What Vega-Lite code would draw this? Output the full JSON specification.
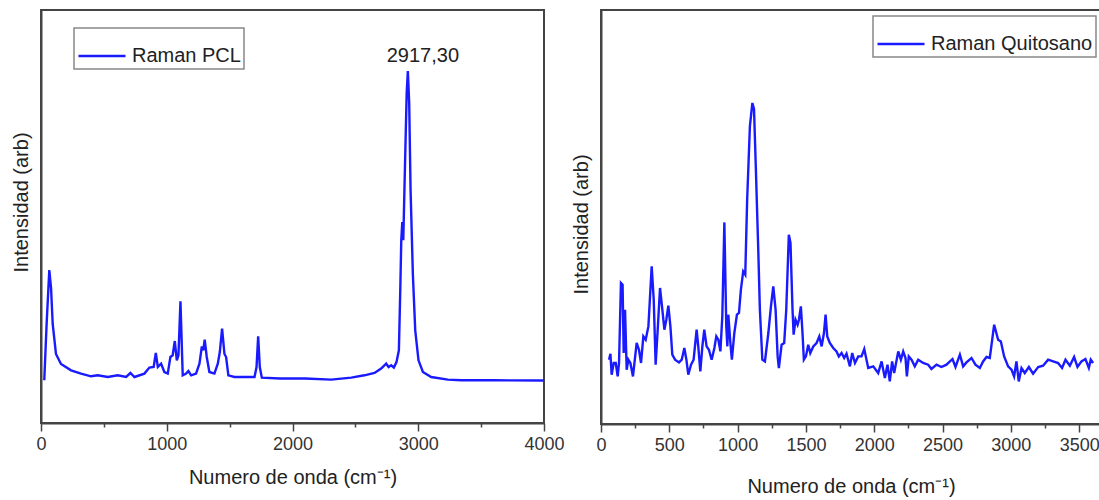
{
"$schema": "https://vega.github.io/schema/vega-lite/v6.json",
"padding": {"left": 10, "top": 9, "right": 0, "bottom": 0},
"background": "white",
"bounds": "flush",
"spacing": 57,
"config": {
  "view": {"stroke": "#444", "strokeWidth": 2},
  "font": "Liberation Sans",
  "axis": {"domainColor": "#444", "domainWidth": 2, "tickColor": "#444", "tickWidth": 1.5, "labelFontSize": 18, "labelColor": "#333", "labelFont": "Liberation Sans", "titleFont": "Liberation Sans", "titleFontSize": 20, "titleFontWeight": "normal", "titleColor": "#222", "grid": false, "labelFlush": false, "labelOverlap": false},
  "legend": {"orient": "none", "strokeColor": "#888", "strokeWidth": 1.5, "padding": 3, "symbolType": "stroke", "symbolSize": 2209, "symbolStrokeWidth": 2.5, "labelFontSize": 20, "labelFont": "Liberation Sans", "labelColor": "#222", "labelOffset": 5, "labelLimit": 400, "fillColor": "white", "cornerRadius": 0}
},
"datasets": {
  "pcl": [
    {"x":26,"y":42.7},{"x":45,"y":100},{"x":66,"y":153},{"x":80,"y":135},{"x":93,"y":99},{"x":119,"y":69},{"x":159,"y":59},{"x":239,"y":52.7},{"x":318,"y":49.4},{"x":398,"y":46.7},{"x":451,"y":47.7},{"x":531,"y":46},{"x":610,"y":47.7},{"x":677,"y":46},{"x":711,"y":50},{"x":743,"y":46},{"x":822,"y":49.4},{"x":862,"y":55.4},{"x":896,"y":56},{"x":913,"y":70},{"x":929,"y":56},{"x":955,"y":59.4},{"x":981,"y":51},{"x":1008,"y":49.4},{"x":1029,"y":66},{"x":1047,"y":67.7},{"x":1064,"y":82},{"x":1080,"y":62.7},{"x":1093,"y":67.7},{"x":1109,"y":121.7},{"x":1127,"y":47.7},{"x":1154,"y":49.4},{"x":1172,"y":52},{"x":1194,"y":47.7},{"x":1233,"y":49.4},{"x":1260,"y":59.4},{"x":1279,"y":76.7},{"x":1290,"y":72.7},{"x":1302,"y":83.4},{"x":1318,"y":66},{"x":1339,"y":51},{"x":1379,"y":49.4},{"x":1406,"y":59.4},{"x":1422,"y":71},{"x":1440,"y":94.4},{"x":1459,"y":69},{"x":1472,"y":66},{"x":1490,"y":47.7},{"x":1538,"y":46},{"x":1698,"y":46},{"x":1714,"y":56},{"x":1727,"y":86.7},{"x":1740,"y":56},{"x":1756,"y":45.4},{"x":1900,"y":44.5},{"x":2100,"y":44.5},{"x":2308,"y":43.4},{"x":2467,"y":45.4},{"x":2572,"y":47.7},{"x":2652,"y":50},{"x":2705,"y":54.4},{"x":2745,"y":59.4},{"x":2764,"y":56},{"x":2785,"y":57.7},{"x":2806,"y":55.4},{"x":2827,"y":61},{"x":2846,"y":72.7},{"x":2857,"y":132.7},{"x":2865,"y":182.7},{"x":2873,"y":201},{"x":2881,"y":182.7},{"x":2895,"y":260},{"x":2908,"y":330},{"x":2917.3,"y":352},{"x":2928,"y":320},{"x":2939,"y":232.7},{"x":2957,"y":149.4},{"x":2976,"y":92.7},{"x":3002,"y":62.7},{"x":3037,"y":51},{"x":3103,"y":46},{"x":3236,"y":43.4},{"x":3342,"y":42.7},{"x":3600,"y":42.7},{"x":4000,"y":42.5}
  ],
  "quito": [
    {"x":59,"y":64.3},{"x":69,"y":70.3},{"x":78,"y":49.3},{"x":93,"y":61},{"x":108,"y":61},{"x":122,"y":47.6},{"x":132,"y":61},{"x":146,"y":141},{"x":158,"y":139.3},{"x":166,"y":71},{"x":176,"y":114.3},{"x":188,"y":54.3},{"x":200,"y":64.3},{"x":215,"y":61},{"x":234,"y":47.6},{"x":261,"y":81},{"x":278,"y":74.3},{"x":293,"y":61},{"x":310,"y":87.6},{"x":327,"y":84.3},{"x":347,"y":97.6},{"x":371,"y":157.6},{"x":386,"y":124.3},{"x":400,"y":59.3},{"x":415,"y":94.3},{"x":432,"y":136},{"x":449,"y":114.3},{"x":464,"y":94.3},{"x":478,"y":104.3},{"x":493,"y":118.3},{"x":508,"y":97.6},{"x":522,"y":69.3},{"x":542,"y":64.3},{"x":571,"y":61.6},{"x":591,"y":64.3},{"x":610,"y":76},{"x":625,"y":64.3},{"x":639,"y":49.3},{"x":659,"y":59.3},{"x":678,"y":64.3},{"x":700,"y":94.3},{"x":712,"y":77.6},{"x":727,"y":52.6},{"x":742,"y":77.6},{"x":756,"y":94.3},{"x":773,"y":77.6},{"x":790,"y":74.3},{"x":810,"y":64.3},{"x":830,"y":76},{"x":844,"y":87.6},{"x":859,"y":84.3},{"x":874,"y":72.6},{"x":888,"y":107.6},{"x":903,"y":201.6},{"x":917,"y":97.6},{"x":925,"y":77.6},{"x":932,"y":109.3},{"x":947,"y":81},{"x":958,"y":64.3},{"x":976,"y":91},{"x":995,"y":109.3},{"x":1010,"y":111},{"x":1024,"y":134.3},{"x":1041,"y":152.6},{"x":1056,"y":149.3},{"x":1070,"y":225},{"x":1090,"y":298},{"x":1108,"y":321},{"x":1120,"y":315},{"x":1133,"y":258},{"x":1151,"y":175},{"x":1163,"y":114.3},{"x":1181,"y":64.3},{"x":1200,"y":62.6},{"x":1225,"y":91},{"x":1244,"y":117.6},{"x":1261,"y":137.6},{"x":1278,"y":114.3},{"x":1293,"y":67.6},{"x":1302,"y":56},{"x":1322,"y":79.3},{"x":1341,"y":81},{"x":1356,"y":114.3},{"x":1375,"y":189.3},{"x":1387,"y":181},{"x":1402,"y":114.3},{"x":1410,"y":89.3},{"x":1424,"y":104.3},{"x":1439,"y":99.3},{"x":1449,"y":104.3},{"x":1463,"y":117.6},{"x":1475,"y":91},{"x":1485,"y":64.3},{"x":1500,"y":67.6},{"x":1517,"y":79.3},{"x":1532,"y":71},{"x":1554,"y":77.6},{"x":1578,"y":81},{"x":1598,"y":87.6},{"x":1615,"y":77.6},{"x":1632,"y":91},{"x":1644,"y":109.3},{"x":1656,"y":87.6},{"x":1675,"y":81},{"x":1700,"y":76},{"x":1724,"y":72.6},{"x":1741,"y":67.6},{"x":1761,"y":71},{"x":1780,"y":66},{"x":1797,"y":70.3},{"x":1822,"y":57.6},{"x":1839,"y":71},{"x":1859,"y":61},{"x":1883,"y":67.6},{"x":1907,"y":67.6},{"x":1927,"y":75},{"x":1956,"y":56},{"x":1993,"y":57.6},{"x":2029,"y":51},{"x":2054,"y":62.6},{"x":2078,"y":46},{"x":2097,"y":59.3},{"x":2114,"y":42.6},{"x":2131,"y":62.6},{"x":2146,"y":51},{"x":2176,"y":72.6},{"x":2195,"y":64.3},{"x":2212,"y":72.6},{"x":2229,"y":66},{"x":2239,"y":47.6},{"x":2253,"y":67.6},{"x":2273,"y":64.3},{"x":2297,"y":57.6},{"x":2322,"y":64.3},{"x":2358,"y":61},{"x":2395,"y":59.3},{"x":2419,"y":55},{"x":2456,"y":59.3},{"x":2492,"y":57},{"x":2529,"y":59.3},{"x":2573,"y":65},{"x":2595,"y":57},{"x":2627,"y":69.3},{"x":2651,"y":57.6},{"x":2675,"y":61.6},{"x":2712,"y":66},{"x":2741,"y":59.3},{"x":2773,"y":56},{"x":2797,"y":62.6},{"x":2822,"y":67},{"x":2846,"y":66},{"x":2878,"y":99.3},{"x":2907,"y":84.3},{"x":2927,"y":82.6},{"x":2951,"y":67.6},{"x":2980,"y":57.6},{"x":3005,"y":54.3},{"x":3024,"y":47.6},{"x":3041,"y":62.6},{"x":3058,"y":42.6},{"x":3078,"y":56},{"x":3102,"y":51},{"x":3132,"y":57},{"x":3163,"y":50.3},{"x":3200,"y":57},{"x":3236,"y":58.3},{"x":3273,"y":64.3},{"x":3310,"y":62.6},{"x":3346,"y":61},{"x":3375,"y":56},{"x":3400,"y":64.3},{"x":3432,"y":58.3},{"x":3463,"y":67},{"x":3488,"y":57},{"x":3517,"y":62.6},{"x":3546,"y":65},{"x":3571,"y":56},{"x":3585,"y":64.3},{"x":3602,"y":61}
  ]
},
"hconcat": [
  {
    "width": 503, "height": 413,
    "layer": [
      {"data": {"name": "pcl"}, "mark": {"type": "line", "strokeWidth": 2.4},
       "encoding": {
         "x": {"field": "x", "type": "quantitative", "scale": {"domain": [0, 4000], "nice": false, "zero": false},
               "axis": {"values": [0, 1000, 2000, 3000, 4000], "format": "d", "title": "Numero de onda (cm⁻¹)", "tickSize": 8, "labelPadding": 4, "titlePadding": 14}},
         "y": {"field": "y", "type": "quantitative", "scale": {"domain": [0, 413], "nice": false},
               "axis": {"title": "Intensidad (arb)", "labels": false, "ticks": false, "titlePadding": 10, "titleY": 192}},
         "color": {"datum": "Raman PCL", "scale": {"range": ["#1a1aff"]}, "legend": {"title": null, "legendX": 33, "legendY": 18}}
       }},
      {"data": {"name": "pcl"}, "mark": {"type": "point", "opacity": 0},
       "encoding": {
         "x": {"field": "x", "type": "quantitative", "axis": {"orient": "bottom", "values": [500, 1500, 2500, 3500], "labels": false, "title": null, "domain": false, "tickSize": 4}},
         "y": {"field": "y", "type": "quantitative"}
       }},
      {"data": {"values": [{"x": 2917.3, "y": 352, "t": "2917,30"}]},
       "mark": {"type": "text", "dx": 15, "dy": -9, "baseline": "alphabetic", "align": "center", "fontSize": 20, "font": "Liberation Sans", "color": "#222"},
       "encoding": {
         "x": {"field": "x", "type": "quantitative", "axis": null},
         "y": {"field": "y", "type": "quantitative"},
         "text": {"field": "t"}
       }}
    ],
    "resolve": {"axis": {"x": "independent"}}
  },
  {
    "width": 500, "height": 414,
    "layer": [
      {"data": {"name": "quito"}, "mark": {"type": "line", "strokeWidth": 2.4},
       "encoding": {
         "x": {"field": "x", "type": "quantitative", "scale": {"domain": [0, 3660], "nice": false, "zero": false},
               "axis": {"values": [0, 500, 1000, 1500, 2000, 2500, 3000, 3500], "format": "d", "title": "Numero de onda (cm⁻¹)", "tickSize": 8, "labelPadding": 4, "titlePadding": 22}},
         "y": {"field": "y", "type": "quantitative", "scale": {"domain": [0, 414], "nice": false},
               "axis": {"title": "Intensidad (arb)", "labels": false, "ticks": false, "titlePadding": 10, "titleY": 214}},
         "color": {"datum": "Raman Quitosano", "scale": {"range": ["#1a1aff"]}, "legend": {"title": null, "legendX": 272, "legendY": 6}}
       }},
      {"data": {"name": "quito"}, "mark": {"type": "point", "opacity": 0},
       "encoding": {
         "x": {"field": "x", "type": "quantitative", "axis": {"orient": "bottom", "values": [250, 750, 1250, 1750, 2250, 2750, 3250], "labels": false, "title": null, "domain": false, "tickSize": 4}},
         "y": {"field": "y", "type": "quantitative"}
       }}
    ],
    "resolve": {"axis": {"x": "independent"}}
  }
],
"resolve": {"scale": {"color": "independent", "x": "independent", "y": "independent"}, "legend": {"color": "independent"}}
}
